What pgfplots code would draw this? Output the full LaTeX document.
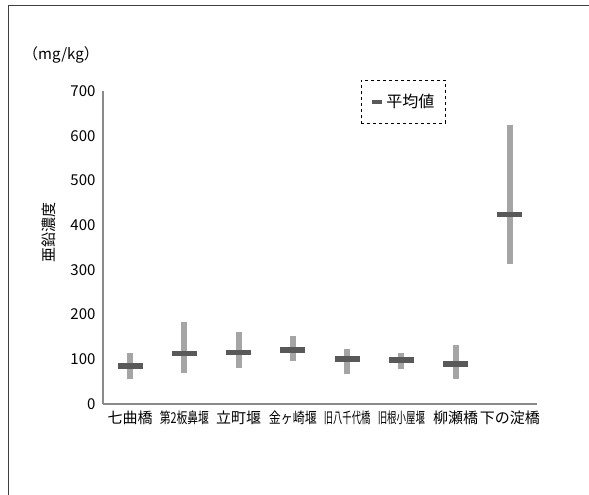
\documentclass[border=0pt]{standalone}
\usepackage{fontspec}
\setmainfont{Noto Sans CJK JP}
\usepackage{pgfplots}
\pgfplotsset{compat=1.18}
\usepackage{pgfplotstable}

\definecolor{rangegray}{HTML}{A5A5A5}
\definecolor{meangray}{HTML}{595959}
\definecolor{axisgray}{HTML}{8A8A8A}

% x: category index, lo/hi: range, mean: average
\pgfplotstableread{
x lo hi mean
0 57 113 85
1 70 183 113
2 80 162 115
3 97 153 121
4 66 122 101
5 78 113 98
6 57 132 89
7 313 624 424
}\zinc

\begin{document}
\begin{tikzpicture}[x=1pt,y=1pt,font=\fontsize{15}{18}\selectfont]
\path[use as bounding box] (0,0) rectangle (589,495);
\draw[black!75, line width=1pt] (8,0) -- (8,489) -- (589,489);
\node at (61,440) {（mg/kg）};
\node[rotate=90] at (49,262) {亜鉛濃度};
\begin{axis}[
    at={(103pt,91pt)}, anchor=south west,
    scale only axis, width=434pt, height=313pt,
    xmin=-0.5, xmax=7.5, ymin=0, ymax=700,
    ytick={0,100,...,700},
    xtick={0,...,7},
    xticklabels={七曲橋,
        \scalebox{0.72}[1]{第2板鼻堰},
        立町堰,
        \scalebox{0.8}[1]{金ヶ崎堰},
        \scalebox{0.62}[1]{旧八千代橋},
        \scalebox{0.63}[1]{旧根小屋堰},
        柳瀬橋,
        下の淀橋},
    axis x line=bottom, axis y line=left,
    axis line style={axisgray, -, line width=1.2pt},
    major tick length=0pt,
    /pgf/number format/assume math mode=true,
    tick label style={font=\fontsize{15}{18}\selectfont},
    yticklabel style={xshift=-4pt},
    xticklabel style={yshift=-3pt},
    legend style={at={(axis description cs:0.692,0.966)}, anchor=center,
        draw=black, dashed, line width=0.6pt, inner xsep=9pt, inner ysep=12pt,
        font=\fontsize{16}{18}\selectfont},
    legend image code/.code={\draw[solid, line width=4pt, meangray] (0pt,0pt) -- (10pt,0pt);},
]
\addplot[draw=none, mark=none, forget plot,
    error bars/.cd, y dir=plus, y explicit, error mark=none,
    error bar style={draw=rangegray, line width=6pt, solid}]
    table[x=x, y=lo, y error expr=\thisrow{hi}-\thisrow{lo}] {\zinc};
\addplot[only marks, mark=-, mark size=12.5pt, line width=5.5pt, color=meangray]
    table[x=x, y=mean] {\zinc};
\legend{平均値}
\end{axis}
\end{tikzpicture}
\end{document}
